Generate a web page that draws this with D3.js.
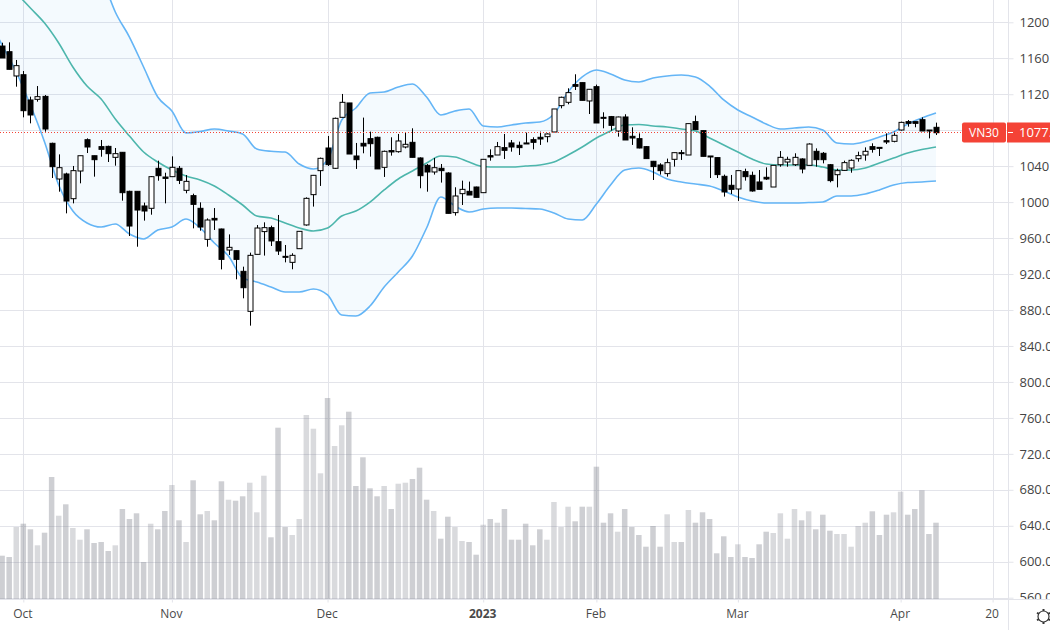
<!DOCTYPE html>
<html>
<head>
<meta charset="utf-8">
<title>VN30 daily</title>
<script src="https://cdn.jsdelivr.net/npm/d3@7/dist/d3.min.js"></script>
<style>
  html, body { margin: 0; padding: 0; background: #fff; overflow: hidden; }
  svg { display: block; }
  text { font-family: "Open Sans", "Noto Sans", sans-serif; }
</style>
</head>
<body>
<svg id="chart" width="1050" height="630"></svg>
<script>
// Daily sessions, one entry per bar, October 2022 to April 2023
const open = [
  1173.6,1167.3,1140.3,1141.7,1113.6,1114.3,1117.6,1065.4,1025.7,1031.3,
  1003.8,1034.6,1069.4,1051.6,1061.7,1062.0,1049.8,1055.4,1012.0,1012.0,
  995.7,993.1,1037.6,1027.9,1028.3,1037.6,1013.1,1007.2,993.1,958.6,
  981.9,970.1,946.7,946.0,923.0,878.5,941.9,967.2,971.6,956.0,
  939.7,933.0,948.2,974.6,1008.3,1035.0,1060.2,1037.6,1094.3,1110.3,
  1051.3,1065.4,1070.6,1072.1,1038.7,1057.3,1056.1,1061.3,1066.5,1049.1,
  1040.9,1033.5,1037.6,1032.4,988.3,1009.4,1012.0,1016.8,1010.5,1051.7,
  1052.4,1060.6,1065.8,1063.2,1065.8,1069.5,1072.1,1072.8,1078.0,1107.3,
  1111.0,1130.7,1132.9,1112.5,1128.4,1094.3,1095.1,1079.1,1094.7,1073.2,
  1070.6,1061.7,1045.4,1041.3,1031.7,1047.6,1055.0,1052.4,1089.5,1079.5,
  1051.3,1049.5,1028.7,1018.7,1014.6,1033.9,1029.8,1022.4,1027.6,1016.8,
  1041.6,1044.6,1041.6,1048.0,1040.9,1056.5,1054.3,1041.6,1030.5,1035.3,
  1037.9,1048.3,1052.4,1061.7,1060.9,1068.3,1067.6,1080.2,1089.5,1089.5,
  1091.7,1080.2,1083.2
];
const high = [
  1177.3,1177.7,1158.1,1145.8,1117.3,1129.1,1119.1,1066.1,1053.1,1032.7,
  1040.2,1051.6,1070.9,1051.6,1069.1,1062.8,1060.2,1055.7,1012.7,1012.0,
  999.4,1029.0,1046.1,1032.7,1050.9,1040.2,1030.1,1009.4,999.7,981.9,
  993.4,970.5,964.1,946.0,928.2,943.8,974.5,977.5,973.8,985.7,
  952.3,943.1,967.5,1005.3,1030.2,1049.5,1073.6,1094.0,1120.3,1110.3,
  1065.8,1094.0,1078.4,1072.8,1057.3,1072.1,1075.8,1077.6,1082.1,1049.8,
  1042.4,1049.1,1042.4,1033.2,1016.5,1023.9,1022.8,1017.2,1047.6,1058.7,
  1066.9,1075.8,1069.1,1067.3,1077.3,1072.1,1078.4,1076.5,1103.6,1117.3,
  1126.6,1142.2,1132.9,1125.5,1130.7,1099.9,1095.8,1095.1,1097.7,1083.2,
  1076.5,1062.4,1045.8,1043.2,1048.4,1055.0,1058.0,1087.3,1096.2,1079.5,
  1051.3,1049.5,1030.6,1030.2,1035.0,1037.2,1033.9,1035.7,1038.7,1040.9,
  1056.8,1050.5,1054.3,1048.7,1065.4,1059.8,1055.7,1042.4,1037.2,1046.1,
  1047.6,1056.1,1060.9,1065.4,1060.9,1076.5,1078.4,1089.5,1091.3,1089.5,
  1094.3,1080.2,1088.4
];
const low = [
  1160.3,1147.7,1128.4,1094.3,1087.6,1111.7,1078.3,1026.8,1011.6,987.5,
  998.6,1020.9,1054.6,1028.3,1050.5,1044.6,1040.5,1001.6,962.3,950.4,
  979.4,986.0,1023.8,998.6,1028.3,1020.1,1009.8,970.8,968.2,950.4,
  969.0,925.2,941.2,914.1,893.0,862.6,941.9,940.5,951.2,941.2,
  933.0,925.3,948.2,973.8,995.0,1018.0,1040.2,1036.9,1094.3,1053.5,
  1036.9,1054.3,1050.6,1036.9,1028.0,1051.7,1055.0,1059.8,1049.8,1015.4,
  1011.6,1030.6,1021.7,987.5,985.0,996.8,1007.9,1005.3,1010.5,1046.1,
  1052.4,1048.0,1056.1,1052.4,1064.7,1058.7,1063.6,1066.5,1078.0,1104.3,
  1108.8,1124.7,1113.2,1098.0,1088.0,1082.1,1079.5,1072.8,1069.1,1063.6,
  1059.8,1048.4,1024.6,1030.6,1028.3,1039.5,1046.9,1052.4,1080.6,1050.9,
  1026.8,1026.8,1006.1,1009.0,1001.3,1023.9,1011.6,1014.2,1024.6,1016.8,
  1039.4,1039.4,1040.2,1032.0,1040.9,1039.4,1043.1,1022.0,1016.4,1034.6,
  1032.7,1045.0,1046.1,1055.0,1051.3,1064.6,1066.5,1079.5,1083.9,1083.2,
  1079.1,1070.9,1074.6
];
const close = [
  1160.3,1147.7,1151.8,1101.7,1096.9,1117.3,1081.3,1039.4,1038.3,1001.2,
  1035.0,1051.6,1061.3,1047.2,1058.7,1053.9,1053.9,1010.5,973.4,991.2,
  990.1,1028.3,1029.4,1026.4,1038.7,1024.2,1023.1,997.5,972.3,980.1,
  980.1,936.3,949.7,936.3,904.8,940.8,971.2,971.6,956.8,945.6,
  939.0,940.8,967.5,1004.2,1029.8,1048.7,1041.7,1093.2,1111.0,1053.5,
  1047.2,1062.4,1065.0,1036.9,1056.5,1055.8,1068.0,1064.3,1049.8,1029.4,
  1033.5,1038.3,1035.0,987.5,1006.8,1014.2,1007.9,1005.3,1047.6,1050.2,
  1061.7,1057.6,1061.3,1060.6,1064.7,1066.5,1070.2,1075.8,1103.6,1116.6,
  1121.8,1128.8,1113.2,1125.5,1088.0,1093.2,1085.4,1094.7,1069.1,1071.3,
  1060.2,1048.4,1039.5,1035.0,1043.9,1055.0,1053.9,1087.3,1080.6,1050.9,
  1050.6,1030.6,1011.3,1014.2,1035.0,1028.3,1012.4,1014.2,1025.7,1040.9,
  1049.8,1047.6,1049.8,1036.8,1064.6,1047.2,1047.2,1023.9,1035.0,1043.9,
  1046.5,1051.7,1056.5,1058.7,1060.2,1066.9,1074.3,1088.7,1087.6,1087.6,
  1079.1,1079.5,1077.2
];
// Traded volume per bar (millions of shares, estimated)
const volume = [
  43.3,42,72,75.3,69.7,53.7,66.3,122,83.3,94.7,
  71,59.3,69.7,56,57,48,53.7,90,80,85.7,
  37,75.3,69.7,88,114,78.7,57,118.7,84.7,88,
  78.7,117.7,99.3,98.3,102.7,116.3,86.7,123.3,61.7,171.3,
  72,64,80,184,170.3,125.7,201,153,173.7,187.3,
  113,141.7,110.7,102.7,113,90,115.3,116.3,120,131.3,
  99.3,88,60.3,82.3,72,58,57,44.3,74.3,80,
  76.3,90,59.3,59.3,75.3,53.7,69.7,59.3,97,72,
  92.3,77.7,92.3,92.3,132.3,76.3,85.7,67.3,90,72,
  64,52.3,73,52.3,84.7,57,57,89,76.3,86.7,
  80,45.7,62.7,42,54.7,42,41,54.7,67.3,66,
  85.7,60.3,90,78.7,87.7,69.7,84.3,68.3,65,65,
  52.3,73,76.3,87.7,64,84.3,86.7,107.3,84.3,90,
  108.7,65,76.3
];
// Bollinger bands, read every second session
const bandBars = d3.range(-2, 133, 2);
const bandUpper = [
  1392,1380.5,1369.4,1358.3,1341.6,1324.9,1313.8,1291.5,1252.6,1211.5,
  1183.6,1150.3,1116.9,1101.3,1076.9,1078.5,1081.3,1079.1,1075.8,1059.1,
  1056.5,1055.7,1042.4,1036.8,1046.8,1091.3,1104.7,1121.4,1122.5,1128,
  1131.4,1116.9,1096.9,1101.3,1103.6,1084.7,1083.5,1085.8,1088,1089.1,
  1098,1122.5,1139.2,1146.9,1142.5,1135.8,1133.6,1138,1140.3,1141.4,
  1139.2,1129.1,1113.6,1102.4,1094.7,1086.9,1081.3,1082.4,1083.5,1080.2,
  1065.7,1064.6,1067.4,1072.4,1078,1086.9,1093.5,1099.1
];
const bandBasis = [
  1266,1249.3,1232.6,1215.9,1199.2,1177,1150.3,1129.1,1114.7,1092.4,
  1073.5,1055.7,1044.6,1035.7,1029,1024.6,1017.9,1007.9,996.8,984.5,
  982.3,976.8,971.2,967.9,971.2,984.5,990.1,1000.1,1013.5,1025.7,
  1034.6,1043.5,1051.3,1050.2,1044.6,1039.6,1039,1039,1040.2,1041.3,
  1044.6,1052.4,1061.3,1071.3,1079.1,1085.8,1086.3,1084.7,1083.5,1081.3,
  1079.1,1071.3,1063.5,1055.7,1047.9,1042.4,1041.3,1041.3,1041.3,1039,
  1035.7,1035.7,1037.9,1043.5,1049.1,1054.6,1058.5,1061.3
];
const bandLower = [
  1205,1174.7,1144.7,1108,1066.9,1019,990.1,976.8,972.3,975.6,
  964.5,959,969,972.3,981.2,971.2,954.5,940,915.6,911.1,
  905.6,900,900,903.3,896.7,874.4,873.3,884.4,905.6,922.3,
  940,971.2,1005.7,995.7,989,992.3,993.4,993.4,992.9,992.3,
  987.9,981.2,980.1,997.9,1019,1035.7,1037.9,1033.5,1025.7,1022.4,
  1020.1,1017.9,1012.4,1005.7,1001.2,999,999,999,999.5,1000.1,
  1006.8,1006.8,1009,1013.5,1019,1021.8,1022.4,1023.5
];
// Axis ticks
const priceTicks = [1200,1160,1120,1080,1040,1000,960,920,880,840,800,760,720,680,640,600,560];
const timeTickBars = [3,24,46,68,84,104,127,140];
const timeTickLabels = ["Oct","Nov","Dec","2023","Feb","Mar","Apr","20"];
const symbol = "VN30";
const lastBar = close.length - 1;

const GRID = "#e3e4ea";
const RED = "#f44336";
const paneRight = 1008, paneBottom = 599;

const svg = d3.select("#chart");
const x = d3.scaleLinear().domain([0, 132]).range([2.1, 936]);
const y = d3.scaleLinear().domain([1200, 560]).range([22.3, 597.7]);
const yVol = d3.scaleLinear().domain([0, 300]).range([paneBottom, paneBottom - 300]);

svg.append("defs").append("clipPath").attr("id", "pane")
  .append("rect").attr("width", paneRight).attr("height", paneBottom);

// Grid
const grid = svg.append("g").attr("clip-path", "url(#pane)")
  .attr("stroke", GRID).attr("stroke-width", 1);
grid.selectAll(".h").data(priceTicks).join("line").attr("class", "h")
  .attr("x1", 0).attr("x2", paneRight)
  .attr("y1", d => Math.round(y(d)) + 0.5).attr("y2", d => Math.round(y(d)) + 0.5);
grid.selectAll(".v").data(timeTickBars).join("line").attr("class", "v")
  .attr("x1", d => Math.round(x(d)) + 0.5).attr("x2", d => Math.round(x(d)) + 0.5)
  .attr("y1", 0).attr("y2", paneBottom);

const pane = svg.append("g").attr("clip-path", "url(#pane)");

// Volume columns, darker on down days
pane.append("g").selectAll("rect").data(volume).join("rect")
  .attr("x", (d, i) => x(i) - 2.75)
  .attr("width", 5.5)
  .attr("y", d => yVol(d))
  .attr("height", d => yVol(0) - yVol(d))
  .attr("fill", (d, i) => close[i] < open[i] ? "rgba(120,123,134,0.36)" : "rgba(120,123,134,0.28)");

// Bollinger fill and lines
const bandIdx = d3.range(bandBars.length);
pane.append("path").datum(bandIdx)
  .attr("fill", "rgba(33,150,243,0.05)")
  .attr("d", d3.area().x(i => x(bandBars[i])).y0(i => y(bandLower[i])).y1(i => y(bandUpper[i])).curve(d3.curveMonotoneX));
[[bandUpper, "#64b5f6"], [bandLower, "#64b5f6"], [bandBasis, "#4db6ac"]].forEach(([vals, color]) => {
  pane.append("path").datum(bandIdx)
    .attr("fill", "none").attr("stroke", color).attr("stroke-width", 1.6)
    .attr("d", d3.line().x(i => x(bandBars[i])).y(i => y(vals[i])).curve(d3.curveMonotoneX));
});

// Candles
const candles = pane.append("g").selectAll("g").data(close).join("g");
candles.append("line")
  .attr("x1", (d, i) => Math.round(x(i)) + 0.5).attr("x2", (d, i) => Math.round(x(i)) + 0.5)
  .attr("y1", (d, i) => y(high[i])).attr("y2", (d, i) => y(low[i]))
  .attr("stroke", "#000").attr("stroke-width", 1);
candles.append("rect")
  .attr("x", (d, i) => Math.round(x(i)) - 2)
  .attr("width", 5)
  .attr("y", (d, i) => y(Math.max(open[i], close[i])))
  .attr("height", (d, i) => Math.max(1, Math.abs(y(open[i]) - y(close[i]))))
  .attr("fill", (d, i) => close[i] < open[i] ? "#000" : "#fff")
  .attr("stroke", "#000").attr("stroke-width", 1);

// Last price line
const lastY = Math.round(y(close[lastBar])) - 0.5;
svg.append("line").attr("x1", 0).attr("x2", paneRight).attr("y1", lastY).attr("y2", lastY)
  .attr("stroke", RED).attr("stroke-width", 1).attr("stroke-dasharray", "1 2");

// Axis frame
svg.append("rect").attr("x", 0).attr("y", paneBottom + 1).attr("width", 1050).attr("height", 30).attr("fill", "#fff");
svg.append("rect").attr("x", paneRight + 1).attr("y", 0).attr("width", 41).attr("height", 630).attr("fill", "#fff");

// The price tag sits where the nearest round tick would be, so that label is left out
const shownTicks = priceTicks.filter(p => Math.abs(y(p) - lastY) > 10);
const priceAxis = d3.axisRight(y).tickValues(shownTicks).tickFormat(d3.format(".2f")).tickSize(5).tickPadding(6);
const priceG = svg.append("g").attr("transform", `translate(${paneRight + 0.5},0)`).call(priceAxis);
priceG.select(".domain").remove();
priceG.selectAll("line").attr("stroke", GRID);
priceG.selectAll("text").attr("fill", "#444").style("font-size", "13px");

const timeAxis = d3.axisBottom(x).tickValues(timeTickBars)
  .tickFormat((d, i) => timeTickLabels[i]).tickSize(3).tickPadding(7);
const timeG = svg.append("g").attr("transform", `translate(0,${paneBottom + 0.5})`).call(timeAxis);
timeG.select(".domain").remove();
timeG.selectAll("line").attr("stroke", GRID);
timeG.selectAll("text").attr("fill", "#4a4a4a").attr("dx", -1).style("font-size", "12px")
  .style("font-weight", (d, i) => timeTickLabels[i] === "2023" ? 700 : 400);

// Pane over-draw keeps the lowest price label cut at the time axis
svg.append("rect").attr("x", paneRight + 1).attr("y", paneBottom + 1).attr("width", 41).attr("height", 30).attr("fill", "#fff");
svg.append("line").attr("x1", 0).attr("x2", 1050).attr("y1", paneBottom + 0.5).attr("y2", paneBottom + 0.5).attr("stroke", GRID);
svg.append("line").attr("x1", paneRight + 0.5).attr("x2", paneRight + 0.5).attr("y1", 0).attr("y2", 630).attr("stroke", GRID);

// Symbol and last price tags
const tagY = lastY - 10;
svg.append("rect").attr("x", 962).attr("y", tagY).attr("width", 44).attr("height", 20).attr("rx", 2).attr("fill", RED);
svg.append("rect").attr("x", 1007).attr("y", tagY).attr("width", 50).attr("height", 20).attr("fill", RED);
svg.append("text").attr("x", 984).attr("y", lastY + 4.5).attr("text-anchor", "middle")
  .attr("fill", "#fff").style("font-size", "12px").text(symbol);
svg.append("line").attr("x1", 1008).attr("x2", 1013).attr("y1", lastY).attr("y2", lastY).attr("stroke", "#fff");
svg.append("text").attr("x", 1019).attr("y", lastY + 4.5)
  .attr("fill", "#fff").style("font-size", "13px").text(d3.format(".2f")(close[lastBar]));

// Settings gear
const gear = svg.append("g").attr("transform", "translate(1043.5,616.5)").attr("fill", "none").attr("stroke", "#333");
gear.append("circle").attr("r", 5.5).attr("stroke-width", 1.2);
d3.range(0, 360, 60).forEach(a => {
  gear.append("line").attr("x1", 0).attr("x2", 0).attr("y1", -5.5).attr("y2", -7.5)
    .attr("stroke-width", 2).attr("transform", `rotate(${a})`);
});
</script>
</body>
</html>
